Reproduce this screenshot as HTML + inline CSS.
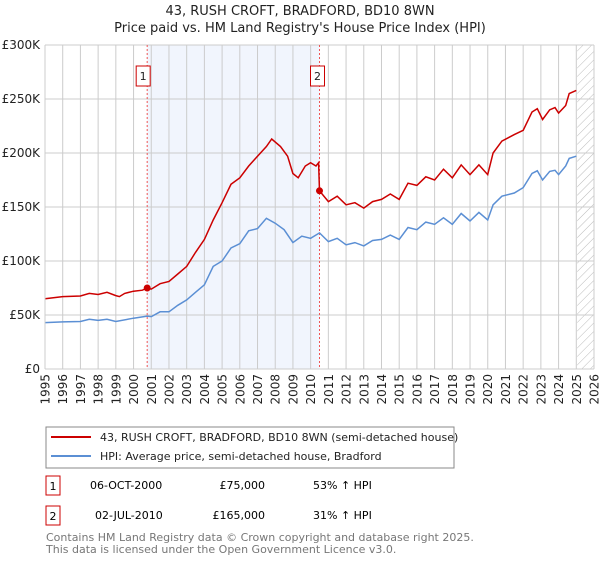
<!DOCTYPE html>
<html><head><meta charset="utf-8"><style>
body{margin:0;background:#fff;font-family:"DejaVu Sans","Liberation Sans",sans-serif;}
svg text{font-family:"DejaVu Sans","Liberation Sans",sans-serif;}
</style></head><body>
<svg id="c" width="600" height="560" xmlns="http://www.w3.org/2000/svg">
<defs><pattern id="hatch" width="6" height="6" patternUnits="userSpaceOnUse" patternTransform="rotate(45)"><line x1="0" y1="0" x2="0" y2="6" stroke="#bbb" stroke-width="1"/></pattern></defs>
<text x="300" y="15" text-anchor="middle" font-size="13" fill="#222">43, RUSH CROFT, BRADFORD, BD10 8WN</text>
<text x="300" y="32" text-anchor="middle" font-size="13" fill="#222">Price paid vs. HM Land Registry's House Price Index (HPI)</text>
<g id="plot"></g>
<rect x="46" y="427" width="408" height="41" fill="#fff" stroke="#888"/>
<line x1="51" y1="437" x2="91" y2="437" stroke="#cc0000" stroke-width="2"/>
<text x="100" y="441" font-size="11" fill="#222">43, RUSH CROFT, BRADFORD, BD10 8WN (semi-detached house)</text>
<line x1="51" y1="456" x2="91" y2="456" stroke="#5b8fd4" stroke-width="2"/>
<text x="100" y="460" font-size="11" fill="#222">HPI: Average price, semi-detached house, Bradford</text>
<g>
<rect x="46" y="476" width="14" height="19" fill="#fff" stroke="#cc0000"/><text x="53" y="490" text-anchor="middle" font-size="11">1</text>
<text x="90" y="489" font-size="11">06-OCT-2000</text><text x="265" y="489" text-anchor="end" font-size="11">£75,000</text><text x="313" y="489" font-size="11">53% ↑ HPI</text></g>
<g>
<rect x="46" y="506" width="14" height="19" fill="#fff" stroke="#cc0000"/><text x="53" y="520" text-anchor="middle" font-size="11">2</text>
<text x="95" y="519" font-size="11">02-JUL-2010</text><text x="265" y="519" text-anchor="end" font-size="11">£165,000</text><text x="313" y="519" font-size="11">31% ↑ HPI</text></g>
<text x="46" y="541" font-size="11" fill="#777">Contains HM Land Registry data © Crown copyright and database right 2025.</text>
<text x="46" y="553" font-size="11" fill="#777">This data is licensed under the Open Government Licence v3.0.</text>
</svg>
<script>
const yTicks=[0,50000,100000,150000,200000,250000,300000];
const yTickLabels=["£0","£50K","£100K","£150K","£200K","£250K","£300K"];
const xYears=[1995,1996,1997,1998,1999,2000,2001,2002,2003,2004,2005,2006,2007,2008,2009,2010,2011,2012,2013,2014,2015,2016,2017,2018,2019,2020,2021,2022,2023,2024,2025,2026];
const priceT=[1995,1996,1997,1997.5,1998,1998.5,1999,1999.2,1999.5,2000,2000.5,2000.77,2001,2001.5,2002,2002.5,2003,2003.5,2004,2004.5,2005,2005.5,2006,2006.5,2007,2007.5,2007.8,2008.3,2008.7,2009,2009.3,2009.7,2010,2010.3,2010.45,2010.5,2011,2011.5,2012,2012.5,2013,2013.5,2014,2014.5,2015,2015.5,2016,2016.5,2017,2017.5,2018,2018.5,2019,2019.5,2020,2020.3,2020.8,2021.5,2022,2022.5,2022.8,2023.1,2023.5,2023.8,2024,2024.4,2024.6,2025];
const priceV=[65,67,67.6,70,69,71,68,67,70,72,73,75,74,79,81,88,95,108,120,138,154,171,177,188,197,206,213,206,197,181,177,188,191,188,191,165,155,160,152,154,149,155,157,162,157,172,170,178,175,185,177,189,180,189,180,200,211,217,221,238,241,231,240,242,237,244,255,258];
const hpiT=[1995,1996,1997,1997.5,1998,1998.5,1999,2000,2000.77,2001,2001.5,2002,2002.5,2003,2003.5,2004,2004.5,2005,2005.5,2006,2006.5,2007,2007.5,2008,2008.5,2009,2009.5,2010,2010.5,2011,2011.5,2012,2012.5,2013,2013.5,2014,2014.5,2015,2015.5,2016,2016.5,2017,2017.5,2018,2018.5,2019,2019.5,2020,2020.3,2020.8,2021.5,2022,2022.5,2022.8,2023.1,2023.5,2023.8,2024,2024.4,2024.6,2025];
const hpiV=[43,43.6,44,46,45,46,44,47,49,48.5,53,53,59,64,71,78,95,100,112,116,128,130,139.5,135,129,117,123,121,126,118,121,115,117,114,119,120,124,120,131,129,136,134,140,134,144,137,145,138,152,160,163,168,181,183.5,175,183,184,180,188,195,197];
const saleT=[2000.77,2010.5];
const saleV=[75,165];
const saleLabels=["1","2"];
const X0=45,X1=594,Y0=369,Y1=45;
const x=t=>X0+(t-1995)/(2026-1995)*(X1-X0);
const y=v=>Y0-v/300000*(Y0-Y1);
const ns="http://www.w3.org/2000/svg",g=document.getElementById('plot');
function mk(tag,at){const e=document.createElementNS(ns,tag);for(const k in at)e.setAttribute(k,at[k]);g.appendChild(e);return e;}
let e=mk('rect',{x:x(saleT[0]),y:Y1,width:x(saleT[1])-x(saleT[0]),height:Y0-Y1,fill:'#eef3fc',opacity:0.8});


e=mk('rect',{x:x(2025.05),y:Y1,width:X1-x(2025.05),height:Y0-Y1,fill:'url(#hatch)'});


xYears.forEach(t=>{const l=mk('line',{x1:x(t),x2:x(t),y1:Y1,y2:Y0,stroke:'#ccc','stroke-width':1});


const tx=mk('text',{x:0,y:0,'text-anchor':'end','font-size':12,fill:'#222',transform:'translate('+(x(t)+4.5)+','+(Y0+5)+') rotate(-90)'});tx.textContent=t;

});
yTicks.forEach((v,i)=>{const l=mk('line',{x1:X0,x2:X1,y1:y(v),y2:y(v),stroke:'#ccc','stroke-width':1});


const tx=mk('text',{x:X0-5,y:y(v)+4,'text-anchor':'end','font-size':12,fill:'#222'});tx.textContent=yTickLabels[i];

});
saleT.forEach((t,i)=>{const l=mk('line',{x1:x(t),x2:x(t),y1:Y1,y2:Y0,stroke:'#e55','stroke-width':1,'stroke-dasharray':'2,2'});


const r=mk('rect',{x:x(t)-9+(i?0:-2),y:66,width:14,height:20,fill:'#fff',stroke:'#cc0000'});


const tx=mk('text',{x:+r.getAttribute('x')+7,y:80,'text-anchor':'middle','font-size':11,fill:'#222'});tx.textContent=saleLabels[i];

});
function path(T,V,c,n){const p=mk('path',{d:T.map((t,i)=>(i?'L':'M')+x(t).toFixed(1)+','+y(V[i]*1000).toFixed(1)).join(''),fill:'none',stroke:c,'stroke-width':1.5});

}
path(hpiT,hpiV,'#5b8fd4','hpi-line');
path(priceT,priceV,'#cc0000','price-line');
saleT.forEach((t,i)=>{const c=mk('circle',{cx:x(t),cy:y(saleV[i]*1000),r:3.5,fill:'#cc0000'});

});
mk('line',{x1:X0,x2:X0,y1:Y1,y2:Y0,stroke:'#ccc'});
</script>
</body></html>
